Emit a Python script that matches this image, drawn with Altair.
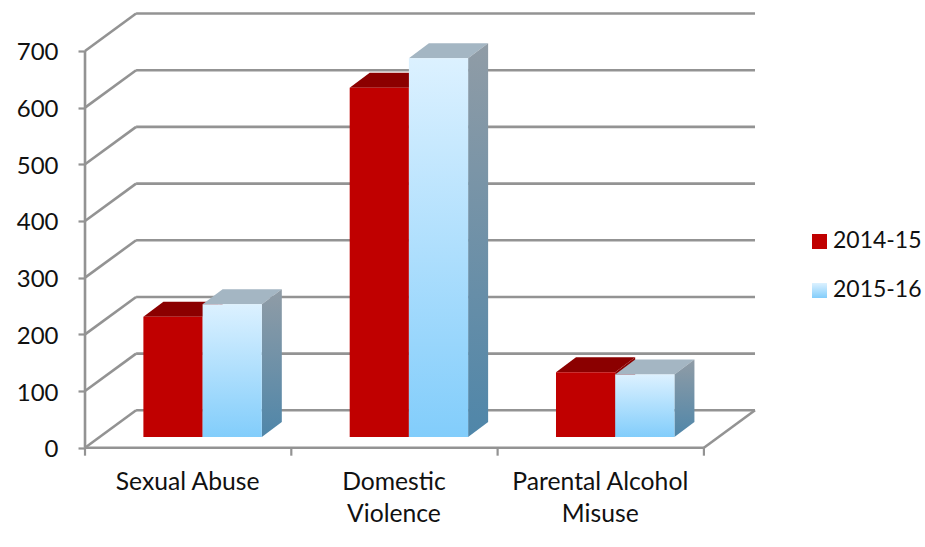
import altair as alt
import pandas as pd

# Chart values
categories = ["Sexual Abuse", "Domestic Violence", "Parental Alcohol Misuse"]
series_names = ["2014-15", "2015-16"]
values_2014 = [212, 616, 114]
values_2015 = [234, 668, 110]
y_ticks = [0, 100, 200, 300, 400, 500, 600, 700]

# Oblique projection of the box, in axis units
DEPTH_X, DEPTH_Y = 0.2476, 66.0        # floor and wall offset
BAR_DX, BAR_DY = 0.097, 26.5           # bar depth offset
BAR_BASE = 19.0                        # bar foot above the front edge
BAR_START, BAR_W = 0.283, 0.287

PLOT_W, PLOT_H = 670, 434.7
x_dom = [0, 3 + DEPTH_X]
y_dom = [0, 767]
x_scale = alt.Scale(domain=x_dom, nice=False, zero=False)
y_scale = alt.Scale(domain=y_dom, nice=False, zero=False)

GRID = "#939393"
FONT = "Lato"
FS = 24
TEXT = "#111111"

x_axis = alt.Axis(
    values=[0.5, 1.5, 2.5], domain=False, grid=False, ticks=False,
    labelExpr="datum.value == 0.5 ? 'Sexual Abuse' : datum.value == 1.5 "
              "? ['Domestic', 'Violence'] : ['Parental Alcohol', 'Misuse']",
    labelFont=FONT, labelFontSize=24.7, labelColor=TEXT, labelPadding=35, labelOffset=-1,
    labelLineHeight=32, labelBaseline="middle", labelOverlap=False, labelFlush=False,
)
y_axis = alt.Axis(
    values=y_ticks, domain=False, grid=False, tickColor=GRID, tickWidth=2.2,
    tickSize=7, labelFont=FONT, labelFontSize=FS, labelColor=TEXT,
    labelPadding=20, labelOffset=2, format="d",
)
X = alt.X("x:Q", scale=x_scale, title=None, axis=x_axis)
Y = alt.Y("y:Q", scale=y_scale, title=None, axis=y_axis)

# Wall and floor lines
grid_rows = []
for v in y_ticks:
    grid_rows.append(dict(x=0, x2=DEPTH_X, y=v, y2=v + DEPTH_Y))
    grid_rows.append(dict(x=DEPTH_X, x2=3 + DEPTH_X, y=v + DEPTH_Y, y2=v + DEPTH_Y))
grid_rows.append(dict(x=0, x2=0, y=0, y2=700))
grid_rows.append(dict(x=0, x2=3, y=0, y2=0))
grid_rows.append(dict(x=3, x2=3 + DEPTH_X, y=0, y2=DEPTH_Y))

grid = alt.Chart(pd.DataFrame(grid_rows)).mark_rule(color=GRID, strokeWidth=2.6).encode(
    x=X, x2="x2:Q", y=Y, y2="y2:Q",
)

# Category ticks below the floor edge
x_ticks = alt.Chart(pd.DataFrame({"x": [0, 1, 2, 3]})).mark_rule(color=GRID, strokeWidth=2.2).encode(
    x=X, y=alt.value(PLOT_H), y2=alt.value(PLOT_H + 8),
)

# Bar geometry
fronts, tops, sides = [], [], []
for s, (name, vals) in enumerate(zip(series_names, [values_2014, values_2015])):
    for i, v in enumerate(vals):
        xl = i + BAR_START + s * BAR_W
        xr = xl + BAR_W
        bar = f"{name}-{i}"
        fronts.append(dict(series=name, x=xl, x2=xr, y=BAR_BASE, y2=BAR_BASE + v))
        top = BAR_BASE + v
        tops.append(dict(series=name, bar=bar, y=top, x=xl, x2=xr))
        tops.append(dict(series=name, bar=bar, y=top + BAR_DY, x=xl + BAR_DX, x2=xr + BAR_DX))
        sides.append(dict(series=name, bar=bar, x=xr, y=BAR_BASE, y2=top))
        sides.append(dict(series=name, bar=bar, x=xr + BAR_DX, y=BAR_BASE + BAR_DY, y2=top + BAR_DY))

fronts = pd.DataFrame(fronts)
tops = pd.DataFrame(tops)
sides = pd.DataFrame(sides)


def top_face(name, color):
    return alt.Chart(tops[tops.series == name]).mark_area(
        orient="horizontal", color=color, interpolate="linear"
    ).encode(x=X, x2="x2:Q", y=Y, detail="bar:N")


def side_face(name, color):
    return alt.Chart(sides[sides.series == name]).mark_area(
        color=color, interpolate="linear"
    ).encode(x=X, y=Y, y2="y2:Q", detail="bar:N")


side_shade = alt.Gradient(
    gradient="linear", x1=0, y1=0, x2=0, y2=1,
    stops=[alt.GradientStop(offset=0, color="#909ca6"), alt.GradientStop(offset=1, color="#4f86a9")],
)

light_expr = (
    "{gradient: 'linear', x1: 0, y1: 0, x2: 0, y2: 1, stops: ["
    "{offset: 0, color: '#dcf1ff'}, {offset: 1, color: '#82cdfb'}]}"
)

front = alt.Chart(fronts).mark_rect().encode(
    x=X, x2="x2:Q", y=Y, y2="y2:Q",
    color=alt.Color(
        "series:N",
        scale=alt.Scale(domain=series_names, range=["#c00000", alt.ExprRef(light_expr)]),
        legend=alt.Legend(
            title=None, orient="none", legendX=723, legendY=217,
            symbolType="square", symbolSize=225, symbolStrokeWidth=0,
            labelFont=FONT, labelFontSize=23, labelColor=TEXT,
            labelOffset=2, rowPadding=25,
        ),
    ),
)

chart = alt.layer(
    grid,
    x_ticks,
    side_face("2014-15", "#8b0000"),
    top_face("2014-15", "#8b0000"),
    top_face("2015-16", "#a4b6c3"),
    side_face("2015-16", side_shade),
    front,
).properties(
    width=PLOT_W,
    height=PLOT_H,
    background="white",
    autosize=alt.AutoSizeParams(type="none"),
    padding={"left": 85, "top": 13, "right": 170, "bottom": 99},
).configure_view(strokeWidth=0)

chart.save("out.html", embed_options={"renderer": "svg", "actions": False})
